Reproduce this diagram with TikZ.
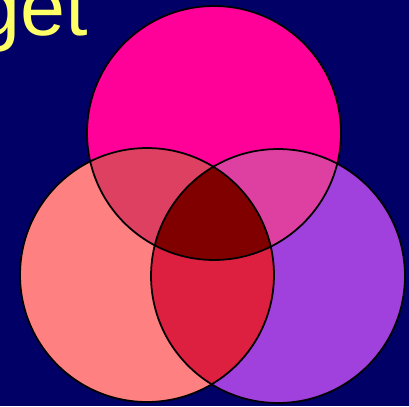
\documentclass[tikz,border=0pt]{standalone}
\usepackage{fontspec}
\setmainfont{Liberation Sans}
\definecolor{navy}{HTML}{000066}
\definecolor{titleyellow}{HTML}{FFFF66}
\definecolor{setpink}{HTML}{FF0099}
\definecolor{setsalmon}{HTML}{FF8080}
\definecolor{setpurple}{HTML}{A040DD}
\definecolor{pinksalmon}{HTML}{DD4060}
\definecolor{pinkpurple}{HTML}{DD40A0}
\definecolor{salmonpurple}{HTML}{DD2040}
\definecolor{allthree}{HTML}{800000}

\begin{document}
\begin{tikzpicture}[x=0.02cm, y=-0.02cm,
        venn/.style={circle, minimum size=5.08cm, inner sep=0pt, outer sep=0pt},
        rim/.style={draw=black, line width=1pt}
    ]
        \fill[navy] (0,0) rectangle (409,406);
        \useasboundingbox (0,0) rectangle (409,406);

        \node[font=\fontsize{46}{50}\selectfont, text=titleyellow, anchor=base east,
              inner sep=0pt] (title) at (88,35) {get};

        \node[venn, fill=setpink] (top) at (214,133) {};
        \node[venn, fill=setsalmon] (left) at (147,275) {};
        \node[venn, fill=setpurple] (right) at (278,276) {};

        % pairwise overlaps
        \begin{scope}
            \clip (top.center) circle[radius=2.54cm];
            \fill[pinksalmon] (left.center) circle[radius=2.54cm];
            \fill[pinkpurple] (right.center) circle[radius=2.54cm];
        \end{scope}
        \begin{scope}
            \clip (left.center) circle[radius=2.54cm];
            \fill[salmonpurple] (right.center) circle[radius=2.54cm];
            \clip (right.center) circle[radius=2.54cm];
            \fill[allthree] (top.center) circle[radius=2.54cm];
        \end{scope}

        \draw[rim] (top.center) circle[radius=2.54cm];
        \draw[rim] (left.center) circle[radius=2.54cm];
        \draw[rim] (right.center) circle[radius=2.54cm];
    \end{tikzpicture}
\end{document}
